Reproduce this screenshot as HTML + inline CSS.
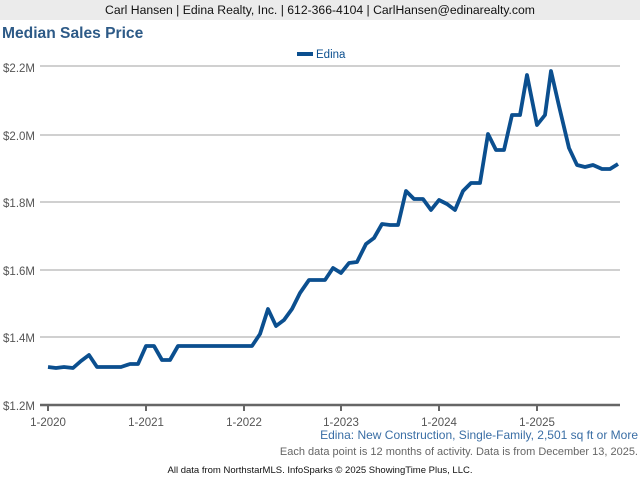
<!DOCTYPE html>
<html><head><style>
body{margin:0;width:640px;height:480px;background:#fff;font-family:"Liberation Sans",Arial,sans-serif;overflow:hidden;position:relative}
.hdr{position:absolute;left:0;top:0;width:640px;height:20px;background:#ebebeb;text-align:center;font-size:12.2px;line-height:21px;color:#111}
.t{position:absolute;left:2px;top:25px;font-size:15.6px;font-weight:bold;color:#2d5a87}
</style></head><body>
<div class="hdr">Carl Hansen | Edina Realty, Inc. | 612-366-4104 | CarlHansen@edinarealty.com</div>
<div class="t">Median Sales Price</div>
<svg width="640" height="480" style="position:absolute;left:0;top:0" font-family="Liberation Sans, Arial, sans-serif">
<g stroke="#b5b5b5" stroke-width="1.2">
<line x1="40" x2="620" y1="66" y2="66"/><line x1="40" x2="620" y1="135" y2="135"/><line x1="40" x2="620" y1="202" y2="202"/><line x1="40" x2="620" y1="270" y2="270"/><line x1="40" x2="620" y1="337" y2="337"/>
</g>
<line x1="40" x2="620" y1="405" y2="405" stroke="#666" stroke-width="2.5"/>
<g stroke="#666" stroke-width="2"><line x1="48" x2="48" y1="405" y2="411"/><line x1="146" x2="146" y1="405" y2="411"/><line x1="244" x2="244" y1="405" y2="411"/><line x1="341" x2="341" y1="405" y2="411"/><line x1="439" x2="439" y1="405" y2="411"/><line x1="537" x2="537" y1="405" y2="411"/></g>
<g font-size="11.5" fill="#555" text-anchor="end"><text x="35" y="72">$2.2M</text><text x="35" y="140">$2.0M</text><text x="35" y="207">$1.8M</text><text x="35" y="275">$1.6M</text><text x="35" y="342">$1.4M</text><text x="35" y="410">$1.2M</text></g>
<g font-size="11.5" fill="#555" text-anchor="middle"><text x="48" y="426">1-2020</text><text x="146" y="426">1-2021</text><text x="244" y="426">1-2022</text><text x="341" y="426">1-2023</text><text x="439" y="426">1-2024</text><text x="537" y="426">1-2025</text></g>
<rect x="297" y="52" width="16" height="4" fill="#0b4f8f"/>
<text x="316" y="58" font-size="11.5" fill="#0b4f8f">Edina</text>
<polyline fill="none" stroke="#0b4f8f" stroke-width="3.8" stroke-linejoin="round" points="48,367 56,368 64,367 73,368 81,361 89,355 97,367 105,367 113,367 121,367 130,364 138,364 146,346 154,346 162,360 170,360 178,346 187,346 195,346 203,346 211,346 219,346 227,346 235,346 244,346 252,346 260,334 268,309 276,326 284,320 292,309 300,293 309,280 317,280 325,280 333,268 341,273 349,263 357,262 366,244 374,238 382,224 390,225 398,225 406,191 414,199 423,199 431,210 439,200 447,204 455,210 463,191 471,183 480,183 488,134 496,150 504,150 512,115 520,115 527,75 537,125 545,115 551,71 559,106 569,148 577,165 585,167 593,165 602,169 610,169 618,164"/>
<text x="638" y="439" font-size="12" fill="#3a6ea5" text-anchor="end">Edina: New Construction, Single-Family, 2,501 sq ft or More</text>
<text x="638" y="455" font-size="11" fill="#666" text-anchor="end">Each data point is 12 months of activity. Data is from December 13, 2025.</text>
<text x="320" y="473" font-size="9.5" fill="#111" text-anchor="middle">All data from NorthstarMLS. InfoSparks © 2025 ShowingTime Plus, LLC.</text>
</svg>
</body></html>
